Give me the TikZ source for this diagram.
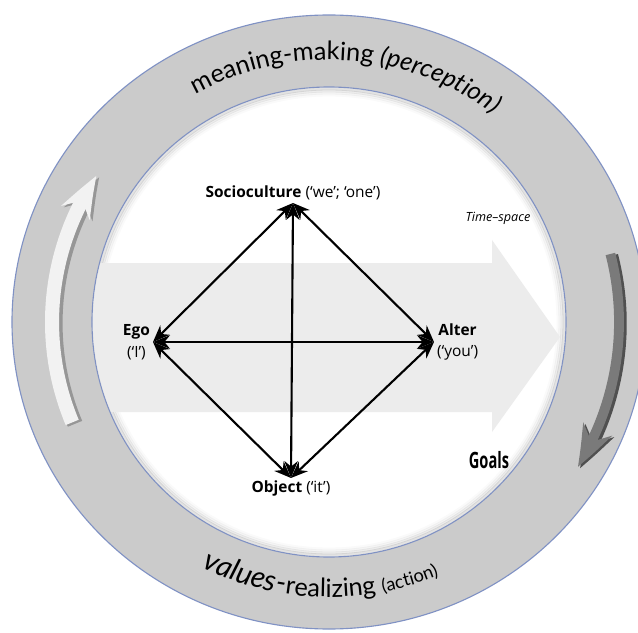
\documentclass[tikz,border=0pt]{standalone}
\usepackage{fontspec}
\setmainfont{Open Sans}
\newfontfamily\ringfont{Lato}
\usepackage{tikz}
\usetikzlibrary{
  arrows.meta,
  bending,
  positioning,
  decorations.text
}
\definecolor{ringgray}{RGB}{203,203,203}
\definecolor{ringedge}{RGB}{128,146,196}
\definecolor{flowgray}{RGB}{236,236,236}
\definecolor{cyclelight}{RGB}{242,242,242}
\definecolor{cycleshade}{RGB}{150,150,150}
\definecolor{cycledark}{RGB}{122,122,122}
\definecolor{cycleedge}{RGB}{80,80,80}

\begin{document}
\begin{tikzpicture}[x=0.025cm, y=0.025cm,
  every node/.style={font=\fontsize{11}{15.5}\selectfont},
  polenode/.style={align=center, inner sep=2pt},
  flowlabel/.style={font=\fontsize{9}{10}\selectfont\itshape},
  goallabel/.style={font=\fontsize{16}{16}\selectfont\bfseries, xscale=0.65},
  biarr/.style={{Stealth[length=12pt,width=9.5pt]}-{Stealth[length=12pt,width=9.5pt]}, line width=1.5pt},
  ringtext/.style={decorate, decoration={text along path, text align=center, text={#1}}},
  cyclearr/.style={-{Stealth[length=30pt,width=22pt,bend]}},
]
  \clip (-329,-310) rectangle (309,322);

  % Ring
  \filldraw[fill=ringgray, draw=ringedge, line width=0.8pt] (0,0) ellipse [x radius=317, y radius=307];
  \filldraw[fill=white, draw=ringedge, line width=0.8pt] (0,0) ellipse [x radius=237, y radius=235];
  \foreach \d/\o in {2/0.22, 4/0.14, 6/0.08, 8/0.04}
    \draw[gray, opacity=\o, line width=2pt] (0,0) ellipse [x radius=237-\d, y radius=235-\d];

  % Time-space flow
  \begin{scope}
    \clip (0,0) ellipse [x radius=236, y radius=234];
    \fill[flowgray] (-250,59) -- (163,59) -- (163,82) -- (231,-15) -- (163,-110) -- (163,-90) -- (-250,-90) -- cycle;
  \end{scope}

  % Ring arrows
  \draw[cyclearr, cycleshade, line width=11pt, xshift=2pt, yshift=-1pt] (-256.8,-100.4) arc[start angle=202, end angle=147, x radius=277, y radius=268];
  \draw[cyclearr, cyclelight, line width=10pt] (-256.8,-100.4) arc[start angle=202, end angle=147, x radius=277, y radius=268];
  \draw[cyclearr, cycleedge, line width=8pt, xshift=1.5pt, yshift=-1pt] (281.4,68.0) arc[start angle=14, end angle=-31, x radius=290, y radius=281];
  \draw[cyclearr, cycledark, line width=7pt] (281.4,68.0) arc[start angle=14, end angle=-31, x radius=290, y radius=281];

  % Ring texts
  \path[ringtext={|\ringfont\fontsize{18}{18}\selectfont|meaning-making |+\itshape|(perception)}]
    (-262.0,63.4) arc[start angle=166, end angle=6, x radius=270, y radius=262];
  \path[ringtext={|\ringfont\itshape\fontsize{21}{21}\selectfont|values-|\ringfont\fontsize{18}{18}\selectfont|realizing |\ringfont\fontsize{13}{13}\selectfont|(action)}]
    (-269.1,-85.0) arc[start angle=198, end angle=338, x radius=283, y radius=275];

  % Nodes
  \node[polenode, anchor=south] (soc) at (-36,119) {\textbf{Socioculture} (‘we’; ‘one’)};
  \node[polenode, anchor=east] (ego) at (-176,-20) {\textbf{Ego}\\(‘I’)};
  \node[polenode, anchor=west] (alter) at (105,-20) {\textbf{Alter}\\(‘you’)};
  \node[polenode, anchor=north] (obj) at (-38,-156) {\textbf{Object} (‘it’)};
  \node[flowlabel] (time) at (169,104) {Time–space};
  \node[goallabel] (goals) at (160,-138) {Goals};

  % Edges
  \draw[biarr] (soc.south) -- (ego.east);
  \draw[biarr] (soc.south) -- (alter.west);
  \draw[biarr] (soc.south) -- (obj.north);
  \draw[biarr] (ego.east) -- (alter.west);
  \draw[biarr] (ego.east) -- (obj.north);
  \draw[biarr] (alter.west) -- (obj.north);
\end{tikzpicture}
\end{document}
